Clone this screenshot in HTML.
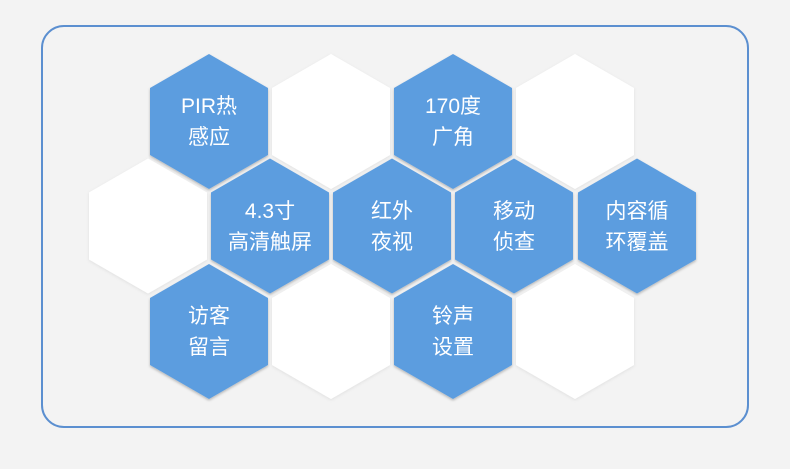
<!DOCTYPE html>
<html><head><meta charset="utf-8"><style>
html,body{margin:0;padding:0;background:#f3f3f3;}
svg{display:block;}
text{font-family:"Liberation Sans","Noto Sans CJK SC",sans-serif;font-size:21px;fill:#fff;text-anchor:middle;}
</style></head><body>
<svg width="790" height="469" viewBox="0 0 790 469" xmlns="http://www.w3.org/2000/svg">
<defs>
<filter id="sh" x="-10%" y="-10%" width="120%" height="120%"><feDropShadow dx="0" dy="1.5" stdDeviation="1.2" flood-color="#000" flood-opacity="0.25"/></filter>
<filter id="sw" x="-10%" y="-10%" width="120%" height="120%"><feDropShadow dx="0" dy="1" stdDeviation="1.5" flood-color="#000" flood-opacity="0.08"/></filter>
<polygon id="h" points="0,-67.5 59,-33.5 59,33.5 0,67.5 -59,33.5 -59,-33.5"/>
</defs>
<rect x="42" y="26" width="706" height="401" rx="22" fill="#f3f3f3" stroke="#5b8fd0" stroke-width="2"/>
<g fill="#fff" filter="url(#sw)">
<use href="#h" x="331" y="121.5"/><use href="#h" x="575" y="121.5"/>
<use href="#h" x="148" y="226"/>
<use href="#h" x="331" y="331.5"/><use href="#h" x="575" y="331.5"/>
</g>
<g fill="#5c9ddf" filter="url(#sh)">
<use href="#h" x="209" y="121.5"/><use href="#h" x="453" y="121.5"/>
<use href="#h" x="270" y="226"/><use href="#h" x="392" y="226"/><use href="#h" x="514" y="226"/><use href="#h" x="637" y="226"/>
<use href="#h" x="209" y="331.5"/><use href="#h" x="453" y="331.5"/>
</g>
<text x="209" y="113">PIR热</text><text x="209" y="144">感应</text>
<text x="453" y="113">170度</text><text x="453" y="144">广角</text>
<text x="270" y="218">4.3寸</text><text x="270" y="249">高清触屏</text>
<text x="392" y="218">红外</text><text x="392" y="249">夜视</text>
<text x="514" y="218">移动</text><text x="514" y="249">侦查</text>
<text x="637" y="218">内容循</text><text x="637" y="249">环覆盖</text>
<text x="209" y="323">访客</text><text x="209" y="354">留言</text>
<text x="453" y="323">铃声</text><text x="453" y="354">设置</text>
</svg>
</body></html>
